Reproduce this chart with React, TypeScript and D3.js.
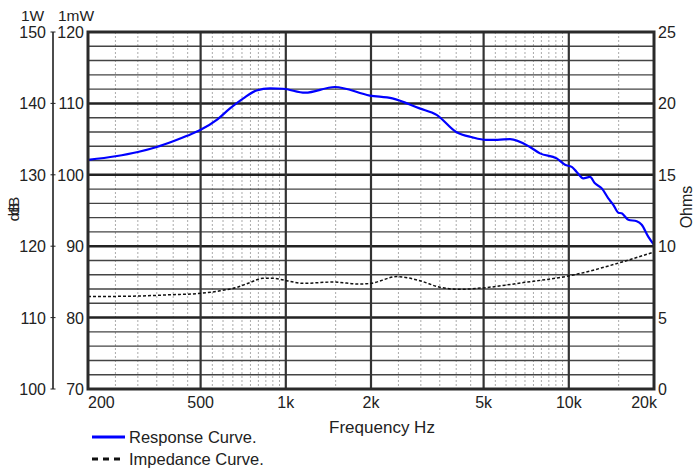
import { useEffect, useRef } from 'react';
import * as d3 from 'd3';

// frequency response (dB re 1mW scale)
const respFreq = [200, 250, 300, 350, 400, 450, 500, 570, 635, 708, 788, 880, 977, 1170, 1490, 1980, 2380, 2970, 3410, 4000, 4560, 5100, 5600, 6200, 7290, 7910, 9060, 9700, 10240, 10660, 11250, 11880, 12370, 13080, 13790, 14360, 14960, 15380, 16230, 17380, 18100, 19080, 20000];
const respDb = [102.1, 102.6, 103.2, 103.9, 104.7, 105.5, 106.3, 107.7, 109.3, 110.7, 111.8, 112.1, 112.05, 111.5, 112.3, 111.1, 110.7, 109.3, 108.4, 106.0, 105.25, 104.9, 104.9, 105.0, 103.9, 103.0, 102.3, 101.4, 101.1, 100.4, 99.5, 99.7, 98.8, 98.1, 96.7, 95.8, 94.7, 94.6, 93.7, 93.5, 93.0, 91.35, 90.2];

// impedance (Ohms)
const impFreq = [200, 300, 390, 500, 586, 672, 746, 830, 901, 1010, 1150, 1468, 1829, 2000, 2472, 2979, 3507, 4126, 4975, 6890, 9940, 15170, 19680];
const impOhm = [6.47, 6.51, 6.6, 6.7, 6.88, 7.12, 7.45, 7.75, 7.75, 7.58, 7.4, 7.49, 7.35, 7.4, 7.87, 7.58, 7.12, 6.98, 7.08, 7.45, 7.91, 8.85, 9.55];

const freqTicks = [200, 500, 1000, 2000, 5000, 10000, 20000];
const freqLabels = ['200', '500', '1k', '2k', '5k', '10k', '20k'];
const minorFreqs = [250, 300, 350, 400, 450, 550, 600, 650, 700, 750, 800, 850, 900, 950, 1500, 2500, 3000, 3500, 4000, 4500, 5500, 6000, 6500, 7000, 7500, 8000, 8500, 9000, 9500, 15000];
const mwTicks = [70, 80, 90, 100, 110, 120];
const wTicks = [100, 110, 120, 130, 140, 150];
const ohmTicks = [0, 5, 10, 15, 20, 25];

const FONT = '"Liberation Sans", Arial, sans-serif';

const App = () => {
    const svgRef = useRef(null);

    useEffect(() => {
        if (!svgRef.current) return;
        const svg = d3.select(svgRef.current);
        svg.selectAll('*').remove();

        const L = 88, R = 654, T = 32, B = 389;
        const x = d3.scaleLog().domain([200, 20000]).range([L, R]);
        const y = d3.scaleLinear().domain([70, 120]).range([B, T]);
        const yW = d3.scaleLinear().domain([100, 150]).range([B, T]);
        const yO = d3.scaleLinear().domain([0, 25]).range([B, T]);

        svg.append('rect').attr('width', 694).attr('height', 469).attr('fill', '#fff');

        const grid = svg.append('g');
        // dotted minor verticals
        grid.selectAll('.vmin').data(minorFreqs).join('line')
            .attr('x1', d => x(d)).attr('x2', d => x(d)).attr('y1', T).attr('y2', B)
            .attr('stroke', '#aaa').attr('stroke-width', 1).attr('stroke-dasharray', '2,2');
        // 2 dB horizontals
        grid.selectAll('.hmin').data(d3.range(72, 120, 2).filter(v => v % 10 !== 0)).join('line')
            .attr('x1', L).attr('x2', R).attr('y1', d => y(d)).attr('y2', d => y(d))
            .attr('stroke', '#444').attr('stroke-width', 1.4);
        grid.selectAll('.hmaj').data([80, 90, 100, 110]).join('line')
            .attr('x1', L).attr('x2', R).attr('y1', d => y(d)).attr('y2', d => y(d))
            .attr('stroke', '#222').attr('stroke-width', 2.5);
        grid.selectAll('.vmaj').data([500, 1000, 2000, 5000, 10000]).join('line')
            .attr('x1', d => x(d)).attr('x2', d => x(d)).attr('y1', T).attr('y2', B)
            .attr('stroke', '#333').attr('stroke-width', 2.2);

        // curves
        const impLine = d3.line<number>()
            .x((_, i) => x(impFreq[i])).y(d => yO(d)).curve(d3.curveMonotoneX);
        svg.append('path').attr('d', impLine(impOhm)).attr('fill', 'none')
            .attr('stroke', '#111').attr('stroke-width', 1.5).attr('stroke-dasharray', '3,2');

        const respLine = d3.line<number>()
            .x((_, i) => x(respFreq[i])).y(d => y(d)).curve(d3.curveMonotoneX);
        svg.append('path').attr('d', respLine(respDb)).attr('fill', 'none')
            .attr('stroke', '#0000ff').attr('stroke-width', 2.2);

        // frame
        svg.append('rect').attr('x', L).attr('y', T).attr('width', R - L).attr('height', B - T)
            .attr('fill', 'none').attr('stroke', '#2a2a2a').attr('stroke-width', 3);

        const txt = (g, xx, yy, s, anchor, size = 16) => g.append('text')
            .attr('x', xx).attr('y', yy).attr('text-anchor', anchor)
            .attr('font-family', FONT).attr('font-size', size).attr('fill', '#222').text(s);

        // bottom labels
        freqTicks.forEach((f, i) => {
            const anchor = i === 0 ? 'start' : i === freqTicks.length - 1 ? 'end' : 'middle';
            const xx = i === freqTicks.length - 1 ? x(f) + 3 : x(f);
            txt(svg, xx, 408, freqLabels[i], anchor);
        });
        txt(svg, 382, 433, 'Frequency Hz', 'middle', 17);

        // left axes
        const axisX = 53;
        svg.append('line').attr('x1', axisX).attr('x2', axisX).attr('y1', T).attr('y2', B)
            .attr('stroke', '#111').attr('stroke-width', 1.5);
        svg.selectAll('.ltick').data(wTicks).join('line')
            .attr('x1', axisX - 2.5).attr('x2', axisX + 2.5).attr('y1', d => yW(d)).attr('y2', d => yW(d))
            .attr('stroke', '#222').attr('stroke-width', 1);
        wTicks.forEach(v => txt(svg, 46, yW(v) + 6, String(v), 'end'));
        mwTicks.forEach(v => txt(svg, 84, y(v) + 6, String(v), 'end'));
        txt(svg, 21, 21, '1W', 'start', 15.5);
        txt(svg, 58, 21, '1mW', 'start', 15.5);

        // dB labels (two overlapping)
        [206, 212].forEach(cy => {
            svg.append('text').attr('transform', `translate(19,${cy}) rotate(-90)`)
                .attr('text-anchor', 'middle').attr('font-family', FONT).attr('font-size', 15)
                .attr('fill', '#222').text('dB');
        });

        // right axis
        ohmTicks.forEach(v => txt(svg, 658, yO(v) + 6, String(v), 'start'));
        svg.append('text').attr('transform', `translate(692,207) rotate(-90)`)
            .attr('text-anchor', 'middle').attr('font-family', FONT).attr('font-size', 16)
            .attr('fill', '#222').text('Ohms');

        // legend
        svg.append('line').attr('x1', 92).attr('x2', 125).attr('y1', 437).attr('y2', 437)
            .attr('stroke', '#0000ff').attr('stroke-width', 3);
        txt(svg, 129, 442.5, 'Response Curve.', 'start', 16.5);
        svg.append('line').attr('x1', 92).attr('x2', 125).attr('y1', 459).attr('y2', 459)
            .attr('stroke', '#111').attr('stroke-width', 3).attr('stroke-dasharray', '6,5');
        txt(svg, 129, 464.5, 'Impedance Curve.', 'start', 16.5);
    }, []);

    return (
        <svg ref={svgRef} width={694} height={469}
            style={{ position: 'absolute', left: 0, top: 0 }} />
    );
};

export default App;
